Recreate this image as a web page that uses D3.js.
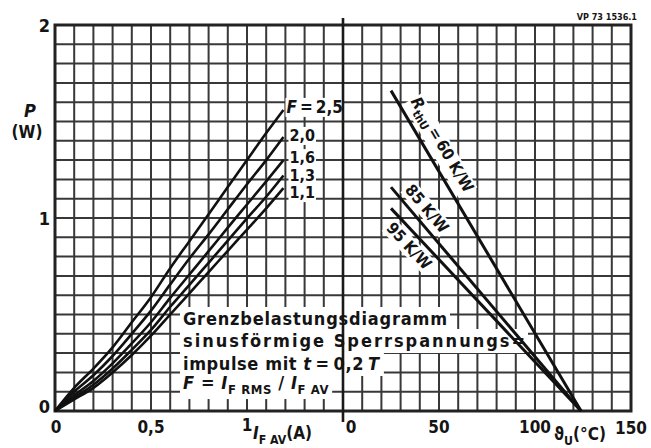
<!DOCTYPE html>
<html>
<head>
<meta charset="utf-8">
<script src="https://cdn.jsdelivr.net/npm/d3@7"></script>
<style>
  html, body { margin: 0; padding: 0; background: #fff; }
  svg { display: block; }
</style>
</head>
<body>
<svg id="chart" width="651" height="448"></svg>
<script>
// ---------------- data ----------------
const currentI = [0, 0.1, 0.2, 0.3, 0.4, 0.5, 0.6, 0.7, 0.8, 0.9, 1.0, 1.1, 1.19];
const formFactors = ["2,5", "2,0", "1,6", "1,3", "1,1"];
const powerF25 = [0, 0.12, 0.22, 0.33, 0.46, 0.59, 0.74, 0.88, 1.02, 1.16, 1.30, 1.44, 1.56];
const powerF20 = [0, 0.10, 0.185, 0.285, 0.40, 0.52, 0.656, 0.79, 0.915, 1.045, 1.175, 1.30, 1.42];
const powerF16 = [0, 0.082, 0.156, 0.247, 0.35, 0.46, 0.586, 0.707, 0.828, 0.95, 1.07, 1.19, 1.30];
const powerF13 = [0, 0.07, 0.136, 0.22, 0.317, 0.42, 0.54, 0.653, 0.768, 0.883, 0.998, 1.11, 1.22];
const powerF11 = [0, 0.06, 0.12, 0.20, 0.29, 0.39, 0.50, 0.61, 0.72, 0.83, 0.94, 1.05, 1.155];
const powerSeries = [powerF25, powerF20, powerF16, powerF13, powerF11];

const thermalLabels = ["60 K/W", "85 K/W", "95 K/W"];
const ambientStart = [25, 25, 25];
const powerAtStart = [1.66, 1.16, 1.05];
const ambientEnd = [124, 124, 124];
const powerAtEnd = [0, 0, 0];

const yTicks = [0, 1, 2];
const yTickLabels = ["0", "1", "2"];
const xTicksA = [0, 0.5, 1];
const xTickLabelsA = ["0", "0,5", "1"];
const xTicksT = [0, 50, 100, 150];
const xTickLabelsT = ["0", "50", "100", "150"];

// ---------------- layout ----------------
const svg = d3.select("#chart");
const FONT = "'DejaVu Sans Condensed','DejaVu Sans',sans-serif";
const INK = "#141414";

const xI = d3.scaleLinear().domain([0, 1.5]).range([55, 343]);
const xT = d3.scaleLinear().domain([0, 150]).range([343, 631]);
const y = d3.scaleLinear().domain([0, 2]).range([411, 25]);

const gGrid = svg.append("g").attr("class", "grid");
const gHalo = svg.append("g").attr("class", "halo");
const gMarks = svg.append("g").attr("class", "marks");
const gText = svg.append("g").attr("class", "texts");

// grid
const vA = d3.range(0, 15.5, 1).map(d => xI(d / 10));
const vT = d3.range(1, 15.5, 1).map(d => xT(d * 10));
vA.concat(vT).forEach(xx => {
  gGrid.append("line")
    .attr("x1", xx).attr("x2", xx).attr("y1", y(0)).attr("y2", y(2))
    .style("stroke", "#383838").style("stroke-width", "2px");
});
d3.range(0, 20.5, 1).forEach(k => {
  gGrid.append("line")
    .attr("x1", xI(0)).attr("x2", xT(150)).attr("y1", y(k / 10)).attr("y2", y(k / 10))
    .style("stroke", "#383838").style("stroke-width", "2px");
});

// rich text helper: segs = [{t, i, s}]
function label(x, yy, segs, size, opts = {}) {
  const t = gText.append("text")
    .attr("x", x).attr("y", yy)
    .style("font-family", FONT).style("font-size", size + "px")
    .style("font-weight", opts.normal ? "normal" : "bold")
    .style("fill", INK)
    .attr("text-anchor", opts.anchor || "start");
  if (opts.transform) t.attr("transform", opts.transform);
  if (opts.textLength) t.attr("textLength", opts.textLength).attr("lengthAdjust", "spacing");
  if (opts.spacing != null) t.style("letter-spacing", opts.spacing + "px");
  let shift = 0;
  segs.forEach(sg => {
    const target = sg.s ? size * 0.28 : 0;
    const sp = t.append("tspan").text(sg.t).attr("dy", target - shift);
    shift = target;
    if (sg.s) sp.style("font-size", (size * 0.72) + "px");
    if (sg.i) sp.style("font-style", "italic");
  });
  if (opts.halo != null) {
    const b = t.node().getBBox();
    const p = opts.halo;
    const r = gHalo.append("rect")
      .attr("x", b.x - p).attr("y", b.y + 2 - p)
      .attr("width", b.width + 2 * p).attr("height", b.height - 3 + 2 * p)
      .style("fill", "#fff");
    if (opts.transform) r.attr("transform", opts.transform);
  }
  return t;
}

// frame
gMarks.append("rect")
  .attr("x", xI(0)).attr("y", y(2))
  .attr("width", xT(150) - xI(0)).attr("height", y(0) - y(2))
  .style("fill", "none").style("stroke", "#222").style("stroke-width", "3px");

// divider between the two halves
gMarks.append("line")
  .attr("x1", xT(0)).attr("x2", xT(0))
  .attr("y1", y(2) - 7).attr("y2", y(0) + 11)
  .style("stroke", "#1a1a1a").style("stroke-width", "2.6px");

// power curves
const line = d3.line().curve(d3.curveMonotoneX);
powerSeries.forEach(ser => {
  gMarks.append("path")
    .attr("d", line(ser.map((p, k) => [xI(currentI[k]), y(p)])))
    .style("fill", "none").style("stroke", "#111").style("stroke-width", "2.6px");
});

// form factor labels
const fOffsets = [3, 4, 3, 5, 10];
formFactors.forEach((f, k) => {
  const ser = powerSeries[k];
  const xx = xI(currentI[currentI.length - 1]) + (k === 0 ? 3 : 6);
  const yy = y(ser[ser.length - 1]) + fOffsets[k];
  const segs = k === 0 ? [{ t: "F", i: true }, { t: "\u2009=\u2009" }, { t: f }] : [{ t: f }];
  label(xx, yy, segs, k === 0 ? 17 : 16, { halo: 1 });
});

// thermal resistance lines
const labelAlong = [19, 11, 11];
const labelPerp = [11, 8, -18];
thermalLabels.forEach((lab, k) => {
  const x0 = xT(ambientStart[k]), y0 = y(powerAtStart[k]);
  const x1 = xT(ambientEnd[k]), y1 = y(powerAtEnd[k]);
  gMarks.append("line")
    .attr("x1", x0).attr("y1", y0).attr("x2", x1).attr("y2", y1)
    .style("stroke", "#111").style("stroke-width", "3px");
  const L = Math.hypot(x1 - x0, y1 - y0);
  const dx = (x1 - x0) / L, dy = (y1 - y0) / L;
  const nx = dy, ny = -dx;
  const px = x0 + dx * labelAlong[k] + nx * labelPerp[k];
  const py = y0 + dy * labelAlong[k] + ny * labelPerp[k];
  const ang = Math.atan2(dy, dx) * 180 / Math.PI;
  const segs = k === 0
    ? [{ t: "R", i: true }, { t: "thU", s: true }, { t: "\u2009=\u2009" + lab }]
    : [{ t: lab }];
  label(0, 0, segs, 16, { halo: 1, transform: `translate(${px},${py}) rotate(${ang})` });
});

// tick labels
yTicks.forEach((v, k) => {
  label(50, y(v) + (v === 0 ? 2 : 7), [{ t: yTickLabels[k] }], 18, { anchor: "end" });
});
xTicksA.forEach((v, k) => {
  label(xI(v) + (v === 0 ? 1 : 0), y(0) + (v === 1 ? 20 : 22), [{ t: xTickLabelsA[k] }], 17, { anchor: "middle" });
});
xTicksT.forEach((v, k) => {
  label(xT(v) + (v === 0 ? 8 : 0), y(0) + (v === 150 ? 23 : 22), [{ t: xTickLabelsT[k] }], 17, { anchor: "middle" });
});

// axis titles
label(30, 117, [{ t: "P", i: true }], 18, { anchor: "middle" });
label(27, 138, [{ t: "(W)" }], 17, { anchor: "middle" });
label(253, 439, [{ t: "I", i: true }, { t: "F AV", s: true }, { t: "(A)" }], 17, {});
label(554, 440, [{ t: "\u03D1" }, { t: "U", s: true }, { t: "(°C)" }], 17, {});

// reference number
gText.append("text").attr("x", 637).attr("y", 20).attr("text-anchor", "end")
  .style("font-family", FONT).style("font-size", "9px").style("font-weight", "bold")
  .style("fill", INK).text("VP 73 1536.1");

// annotation block
label(183, 325, [{ t: "Grenzbelastungsdiagramm" }], 18, { halo: 3, textLength: 264 });
label(183, 347, [{ t: "sinusförmige Sperrspannungs=" }], 18, { halo: 3, textLength: 342 });
label(183, 370, [{ t: "impulse mit " }, { t: "t", i: true }, { t: "\u2009=\u20090,2\u2009" }, { t: "T", i: true }], 18, { halo: 3, spacing: 0.6 });
label(183, 389, [{ t: "F", i: true }, { t: " = " }, { t: "I", i: true }, { t: "F RMS", s: true }, { t: " / " }, { t: "I", i: true }, { t: "F AV", s: true }], 18, { halo: 3, spacing: 0.6 });
</script>
</body>
</html>
